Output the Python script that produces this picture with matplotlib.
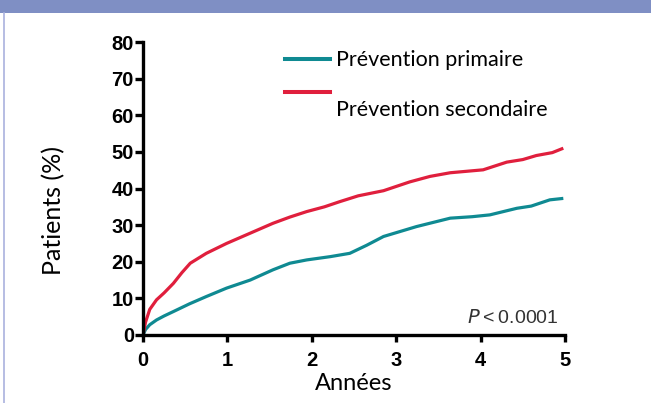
import matplotlib.pyplot as plt
from matplotlib.lines import Line2D
from matplotlib.patches import Rectangle

# Kaplan-Meier style cumulative incidence
annees_sec = [0, 0.03, 0.08, 0.16, 0.25, 0.36, 0.46, 0.56, 0.75, 0.99, 1.27, 1.54, 1.74, 1.94,
              2.15, 2.33, 2.55, 2.85, 3.16, 3.4, 3.64, 4.03, 4.31, 4.5, 4.66, 4.85, 4.98]
secondaire = [0, 3.5, 7.0, 9.6, 11.5, 14.1, 17.0, 19.6, 22.3, 25.0, 27.8, 30.5, 32.2, 33.7,
              35.0, 36.4, 38.0, 39.4, 41.8, 43.3, 44.3, 45.1, 47.2, 47.9, 49.0, 49.8, 51.0]

annees_prim = [0, 0.03, 0.08, 0.16, 0.25, 0.36, 0.55, 0.75, 0.99, 1.27, 1.54, 1.74, 1.94,
               2.22, 2.45, 2.65, 2.85, 2.98, 3.24, 3.64, 3.9, 4.11, 4.43, 4.6, 4.82, 4.98]
primaire = [0, 1.5, 2.8, 4.1, 5.2, 6.4, 8.5, 10.5, 12.8, 15.0, 17.8, 19.6, 20.5,
            21.4, 22.3, 24.5, 26.9, 27.8, 29.6, 31.9, 32.3, 32.8, 34.6, 35.2, 36.9, 37.3]

y_ticks = [0, 10, 20, 30, 40, 50, 60, 70, 80]
x_ticks = [0, 1, 2, 3, 4, 5]

teal = '#0f8a92'
rouge = '#e01f3d'
texte_font = 'Lato'

fig = plt.figure(figsize=(6.51, 4.03), dpi=100)
fig.patch.set_facecolor('white')

# header band and left frame line
fig.add_artist(Rectangle((0, 1 - 13 / 403), 1, 13 / 403, transform=fig.transFigure,
                         color='#7f8fc4', lw=0, zorder=0))
fig.add_artist(Line2D([3.5 / 651, 3.5 / 651], [0, 1 - 13 / 403], transform=fig.transFigure,
                      color='#aab2de', lw=1.2))

ax = fig.add_axes([143 / 651, 1 - 335 / 403, (565 - 143) / 651, (335 - 42) / 403])
ax.plot(annees_prim, primaire, color=teal, lw=2.3, solid_capstyle='butt')
ax.plot(annees_sec, secondaire, color=rouge, lw=2.3, solid_capstyle='butt')

ax.set_xlim(0, 5)
ax.set_ylim(0, 80)
ax.set_xticks(x_ticks)
ax.set_yticks(y_ticks)
ax.set_xticklabels([str(v) for v in x_ticks], fontsize=14.5, fontweight='bold',
                   family='Liberation Sans')
ax.set_yticklabels([str(v) for v in y_ticks], fontsize=14.5, fontweight='bold',
                   family='Liberation Sans')
ax.tick_params(axis='x', width=2.4, length=5, direction='out', pad=6.5, color='black')
ax.tick_params(axis='y', width=2.4, length=6, direction='out', pad=0.5, color='black')
for s in ['top', 'right']:
    ax.spines[s].set_visible(False)
for s in ['left', 'bottom']:
    ax.spines[s].set_linewidth(2.4)

ax.set_xlabel('Années', fontsize=17, family=texte_font)
ax.xaxis.set_label_coords(0.5, -0.128)
ax.set_ylabel('Patients (%)', fontsize=18, family=texte_font)
ax.yaxis.set_label_coords(-0.185, 0.425)

# legend drawn by hand (red line sits above its label)
ax.add_line(Line2D([0.336, 0.443], [0.942, 0.942], transform=ax.transAxes, color=teal, lw=2.9))
ax.text(0.458, 0.939, 'Prévention primaire', transform=ax.transAxes, fontsize=15.5,
        family=texte_font, va='center', ha='left')
ax.add_line(Line2D([0.336, 0.443], [0.829, 0.829], transform=ax.transAxes, color=rouge, lw=2.9))
ax.text(0.458, 0.768, 'Prévention secondaire', transform=ax.transAxes, fontsize=15.5,
        family=texte_font, va='center', ha='left')

ax.text(0.985, 0.058, r'$\mathit{P}$' + '\u2009<\u20090.0001', transform=ax.transAxes,
        fontsize=14, family='Liberation Sans', color='#333333', ha='right', va='center')

fig.savefig('out.png', dpi=100)
